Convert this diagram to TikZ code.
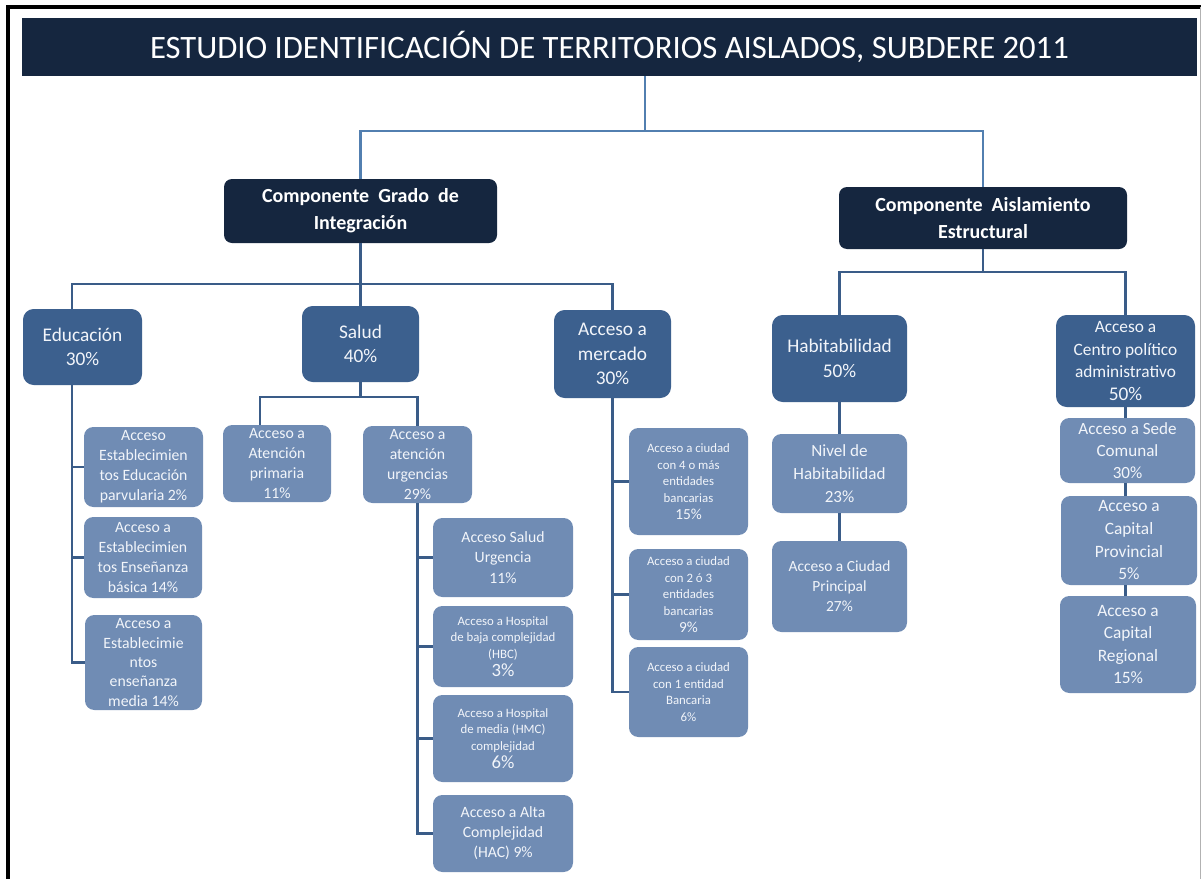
\documentclass[tikz,border=0pt]{standalone}
\usepackage{fontspec}
\setmainfont{Carlito}
\definecolor{navy}{RGB}{21,38,63}
\definecolor{midblue}{RGB}{60,96,142}
\definecolor{liteblue}{RGB}{112,140,180}
\definecolor{linkA}{RGB}{82,127,176}
\definecolor{linkB}{RGB}{58,92,136}
\definecolor{txt}{RGB}{242,245,250}
\newcommand\fsz[2]{\fontsize{#1}{#2}\selectfont}
\tikzset{
  sz/.style 2 args={minimum width=0.75pt*#1, minimum height=0.75pt*#2},
  titlebar/.style={fill=navy, inner sep=0pt, text=white, font=\fsz{24.5}{28}},
  navybox/.style={fill=navy, rounded corners=6pt, inner sep=0pt, text=white, align=center, font=\bfseries\fsz{15}{20}},
  midbox/.style={fill=midblue, rounded corners=8pt, inner sep=0pt, text=txt, align=center, font=\fsz{14.5}{18.5}},
  litebox/.style={fill=liteblue, rounded corners=7pt, inner sep=0pt, text=txt, align=center, font=\fsz{11.8}{15}},
  linkup/.style={draw=linkA, line width=1.7pt},
  linkdn/.style={draw=linkB, line width=2pt},
}
\begin{document}
\begin{tikzpicture}[x=0.75pt,y=-0.75pt]
\useasboundingbox (0,0) rectangle (1202,878);
\fill[white] (0,0) rectangle (1202,878);
% frame
\draw[black, line width=2.4pt] (8,880) -- (8,7) -- (1201,7);
\draw[gray!60, line width=0.8pt] (1200.5,7) -- (1200.5,880);

% title and components
\node[titlebar, sz={1175}{58}] (title) at (609.5,47) {ESTUDIO IDENTIFICACIÓN DE TERRITORIOS AISLADOS, SUBDERE 2011};
\node[navybox, sz={273}{64}] (cg) at (360.5,211) {Componente\ \ Grado\ \ de\\Integración};
\node[navybox, sz={288}{62}] (ca) at (983,218) {Componente\ \ Aislamiento\\Estructural};

% level 2
\node[midbox, sz={119}{76}] (edu) at (82.5,347) {Educación\\30\%};
\node[midbox, sz={117}{76}] (sal) at (360.5,344) {Salud\\40\%};
\node[midbox, sz={117}{88}] (mer) at (612.5,354) {Acceso a\\mercado\\30\%};
\node[midbox, sz={135}{87}] (hab) at (839.5,358.5) {Habitabilidad\\50\%};
\node[midbox, sz={139}{92}, font=\fsz{13}{17}] (cpa) at (1125.5,361) {Acceso a\\Centro político\\administrativo\\{\fsz{14.5}{17}50\%}};

% education children
\node[litebox, sz={119}{80}] (e1) at (143.5,467) {Acceso\\Establecimien\\tos Educación\\parvularia 2\%};
\node[litebox, sz={118}{81}] (e2) at (143,557.5) {Acceso a\\Establecimien\\tos Enseñanza\\básica 14\%};
\node[litebox, sz={117}{95}, font=\fsz{11.8}{14.5}] (e3) at (143.5,662.5) {Acceso a\\Establecimie\\ntos\\enseñanza\\media 14\%};

% salud children
\node[litebox, sz={108}{77}] (prim) at (277,463.5) {Acceso a\\Atención\\primaria\\11\%};
\node[litebox, sz={109}{77}] (urg) at (417.5,464.5) {Acceso a\\atención\\urgencias\\29\%};
\node[litebox, sz={140}{79}, font=\fsz{11.8}{15.5}] (u1) at (503,557.5) {Acceso Salud\\Urgencia\\11\%};
\node[litebox, sz={140}{81}, font=\fsz{9.6}{12.5}] (u2) at (503,646.5) {Acceso a Hospital\\de baja complejidad\\(HBC)\\[1pt]{\fsz{14}{14}3\%}};
\node[litebox, sz={140}{87}, font=\fsz{9.6}{12.5}] (u3) at (503,738.5) {Acceso a Hospital\\de media (HMC)\\complejidad\\[1pt]{\fsz{14}{14}6\%}};
\node[litebox, sz={140}{77}, font=\fsz{11.8}{15}] (u4) at (503,833.5) {Acceso a Alta\\Complejidad\\(HAC) 9\%};

% mercado children
\node[litebox, sz={119}{107}, font=\fsz{9.6}{12.5}] (m1) at (688.5,481.5) {Acceso a ciudad\\con 4 o más\\entidades\\bancarias\\{\fsz{11.5}{13}15\%}};
\node[litebox, sz={119}{91}, font=\fsz{9.6}{12.5}] (m2) at (688.5,594.5) {Acceso a ciudad\\con 2 ó 3\\entidades\\bancarias\\{\fsz{11.5}{13}9\%}};
\node[litebox, sz={119}{90}, font=\fsz{9.6}{12.5}] (m3) at (688.5,692) {Acceso a ciudad\\con 1 entidad\\Bancaria\\6\%};

% habitabilidad children
\node[litebox, sz={135}{79}, font=\fsz{12.8}{17}] (niv) at (839.5,473.5) {Nivel de\\Habitabilidad\\23\%};
\node[litebox, sz={135}{91}, font=\fsz{11.6}{15}] (acp) at (839.5,586.5) {Acceso a Ciudad\\Principal\\27\%};

% centro politico children
\node[litebox, sz={135}{65}, font=\fsz{12.8}{16.5}] (sede) at (1127.5,450.5) {Acceso a Sede\\Comunal\\30\%};
\node[litebox, sz={136}{89}, font=\fsz{13}{17}] (cprov) at (1129,540.5) {Acceso a\\Capital\\Provincial\\5\%};
\node[litebox, sz={136}{97}, font=\fsz{13}{17}] (creg) at (1128,644.5) {Acceso a\\Capital\\Regional\\15\%};

% --- connectors ---
\coordinate (top) at (645,131);
\draw[linkup] (title.south -| top) -- (top);
\draw[linkup] (cg.north) |- (top) -| (ca.north);

\coordinate (b1) at (361,284);
\coordinate (et) at (72,284);
\draw[linkdn] (cg.south) -- (cg.south |- b1);
\draw[linkdn] (et |- edu.north) -- (et) -- (mer.north |- b1) -- (mer.north);
\draw[linkdn] (sal.north) -- (sal.north |- b1);

\draw[linkdn] (et |- edu.south) |- (e3.west);
\draw[linkdn] (et |- e1.west) -- (e1.west);
\draw[linkdn] (et |- e2.west) -- (e2.west);

\coordinate (b2) at (260,397);
\draw[linkdn] (sal.south) -- (sal.south |- b2);
\draw[linkdn] (b2 |- prim.north) -- (b2) -| (urg.north);
\draw[linkdn] (urg.south) |- (u4.west);
\draw[linkdn] (urg.south |- u1.west) -- (u1.west);
\draw[linkdn] (urg.south |- u2.west) -- (u2.west);
\draw[linkdn] (urg.south |- u3.west) -- (u3.west);

\draw[linkdn] (mer.south) |- (m3.west);
\draw[linkdn] (mer.south |- m1.west) -- (m1.west);
\draw[linkdn] (mer.south |- m2.west) -- (m2.west);

\coordinate (b3) at (985,272);
\draw[linkdn] (ca.south) -- (ca.south |- b3);
\draw[linkdn] (hab.north) |- (b3) -| (cpa.north);
\draw[linkdn] (hab.south) -- (hab.south |- niv.north);
\draw[linkdn] (niv.south) -- (niv.south |- acp.north);
\draw[linkdn] (cpa.south) -- (cpa.south |- sede.north);
\draw[linkdn] (cpa.south |- sede.south) -- (cpa.south |- cprov.north);
\draw[linkdn] (cpa.south |- cprov.south) -- (cpa.south |- creg.north);
\end{tikzpicture}
\end{document}
